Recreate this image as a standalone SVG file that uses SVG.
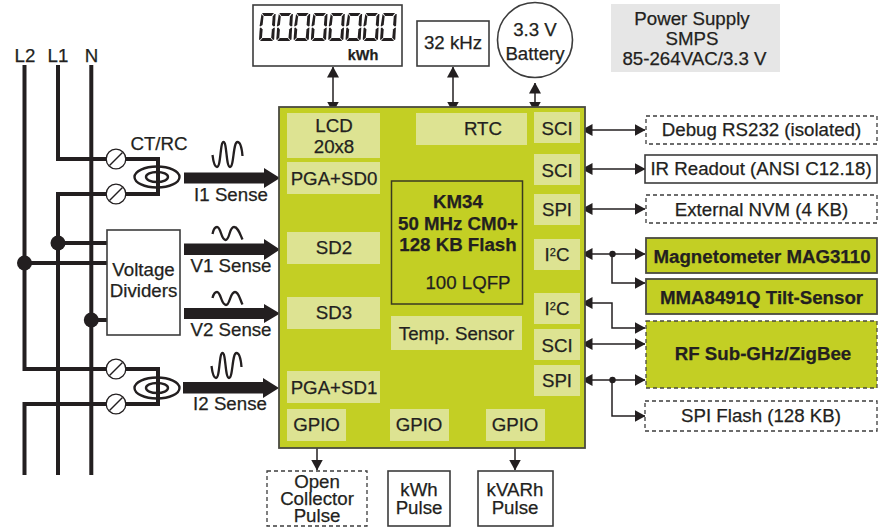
<svg xmlns="http://www.w3.org/2000/svg" xmlns:xlink="http://www.w3.org/1999/xlink" width="885" height="529" viewBox="0 0 885 529">
<style>
text{font-family:"Liberation Sans",Arial,sans-serif;font-size:18.7px;fill:#231f20;stroke:#231f20;stroke-width:.25;text-anchor:middle}
.b{font-weight:bold}
.box{fill:#fff;stroke:#3c3c3c;stroke-width:1.6}
.dash{fill:#fff;stroke:#3c3c3c;stroke-width:1.3;stroke-dasharray:4 3}
.grn{fill:#c3cf24;stroke:#4a4a40;stroke-width:1.8}
.pad{fill:#dde392}
.wire{fill:none;stroke:#231f20;stroke-width:4}
.conn{fill:none;stroke:#231f20;stroke-width:1.5}
.both{marker-start:url(#ah);marker-end:url(#ah)}
.end{marker-end:url(#ah)}
.dot{fill:#231f20}
.wave{fill:none;stroke:#231f20;stroke-width:2.3}
.thick{fill:#231f20}
.screw{fill:#fff;stroke:#231f20;stroke-width:1.3}
.ring{fill:none;stroke:#231f20;stroke-width:2.4}
.seg{fill:#231f20}
</style>
<defs>
<marker id="ah" viewBox="0 0 11 12" refX="10.5" refY="6" markerWidth="11" markerHeight="12" markerUnits="userSpaceOnUse" orient="auto-start-reverse"><path d="M0 0L11 6L0 12Z" fill="#231f20"/></marker>
<g id="digit">
<polygon class="seg" points="3,0 15,0 12.5,3 5,3"/>
<polygon class="seg" points="2.5,1 4.5,3.5 3.6,12 1.2,13.6 0.6,13"/>
<polygon class="seg" points="15.5,1 16.6,1 16,13 14.6,13.6 13,12 13.7,3.5"/>
<polygon class="seg" points="0.8,15 2,14.6 3.6,16.4 3,24.5 0.8,27 0,26.5"/>
<polygon class="seg" points="14.4,15 15.8,14.6 15.2,26.5 14,27 12.2,24.5 12.9,16.4"/>
<polygon class="seg" points="3.5,25 11.5,25 14,28 1,28"/>
</g>
<g id="screw"><circle class="screw" r="9.8"/><path d="M-6.500 6.500L6.500 -6.500" stroke="#231f20" stroke-width="1.500"/></g>
<g id="ct"><ellipse class="ring" rx="22.500" ry="10.500"/><ellipse class="ring" rx="11" ry="5"/></g>
</defs>

<g id="connectors">
<path class="wire" d="M24.500 65V369H158V404H24.500V475"/>
<path class="wire" d="M58 65V159H158V194H58V475"/>
<path class="wire" d="M91.300 65V475"/>
<path class="wire" d="M58 243H108M24.500 263H108M91.300 320H108"/>
<circle class="dot" cx="58" cy="243" r="7.500"/>
<circle class="dot" cx="24.500" cy="263" r="7.500"/>
<circle class="dot" cx="91.300" cy="320" r="7.500"/>
<path class="thick" d="M184 172.500H264V168L280 178L264 188V183.500H184Z"/>
<path class="thick" d="M184 243.500H264V239L280 249.500L264 260V255H184Z"/>
<path class="thick" d="M184 308H264V304L280 313.500L264 323V319H184Z"/>
<path class="thick" d="M183 382H263V378L279 388L263 398V393.500H183Z"/>
<path class="wave" d="M212.500 155C213.500 163 215 167 217 167C221 167 220 142 223.500 142C227 142 226 167 230 167C234 167 233 142 237.500 142C241 142 242 150 242.500 156"/>
<path class="wave" d="M212.500 234C213.500 229 215 227 217 227C221 227 221 240 225.500 240C230 240 229 227 234 227C238 227 240 234 242.500 239.500"/>
<path class="wave" d="M212.500 298C213.500 294 215 292 217 292C221 292 221 305 226 305C230 305 230 292 235 292C239 292 240 300 242.500 304.500"/>
<path class="wave" d="M211.500 366C212.500 374 214 378 216 378C220 378 219 353 222.500 353C226 353 225 378 229 378C233 378 232 353 236.500 353C240 353 241 361 241.500 367"/>
<path class="conn both" d="M333 67V112"/>
<path class="conn both" d="M453 67V112"/>
<path class="conn both" d="M535 83V112"/>
<path class="conn both" d="M582 130H645"/>
<path class="conn both" d="M582 169H645"/>
<path class="conn both" d="M582 209H645"/>
<path class="conn both" d="M582 254H645"/>
<path class="conn end" d="M612 254V283H645"/>
<circle class="dot" cx="612.500" cy="254" r="3.200"/>
<path class="conn both" d="M582 303H612V328H645"/>
<path class="conn both" d="M582 344H645"/>
<path class="conn both" d="M582 380H645"/>
<path class="conn end" d="M612 380V416H645"/>
<circle class="dot" cx="612.500" cy="380" r="3.200"/>
<path class="conn end" d="M317 441V470"/>
<path class="conn end" d="M515 441V470"/>
</g>

<g id="mains-labels">
<text x="25" y="62">L2</text><text x="58" y="62">L1</text><text x="91.500" y="62">N</text>
<text x="159" y="150">CT/RC</text>
<text x="231" y="201">I1 Sense</text>
<text x="231" y="272">V1 Sense</text>
<text x="231" y="336">V2 Sense</text>
<text x="230" y="410">I2 Sense</text>
</g>
<g id="ct1"><use xlink:href="#screw" x="116" y="159"/><use xlink:href="#screw" x="116" y="194"/><use xlink:href="#ct" x="157" y="177"/></g>
<g id="ct2"><use xlink:href="#screw" x="116" y="369"/><use xlink:href="#screw" x="116" y="404"/><use xlink:href="#ct" x="157" y="388"/></g>
<g id="dividers"><rect class="box" x="107" y="230" width="73" height="105"/><text x="143.500" y="276">Voltage</text><text x="143.500" y="297">Dividers</text></g>

<g id="mcu">
<rect class="grn" x="279" y="107" width="306" height="341"/>
<rect class="pad" x="287" y="113" width="93" height="45"/><text x="334" y="132">LCD</text><text x="334" y="153">20x8</text>
<rect class="pad" x="416" y="113" width="111" height="32"/><text x="483" y="135">RTC</text>
<rect class="pad" x="534" y="112" width="46" height="31"/><text x="557" y="135">SCI</text>
<rect class="pad" x="534" y="154" width="46" height="31"/><text x="557" y="177">SCI</text>
<rect class="pad" x="534" y="194" width="46" height="31"/><text x="557" y="216">SPI</text>
<rect class="pad" x="534" y="239" width="46" height="31"/><text x="557" y="261">I<tspan font-size="11" dy="-5">2</tspan><tspan dy="5">C</tspan></text>
<rect class="pad" x="534" y="293" width="46" height="31"/><text x="557" y="315">I<tspan font-size="11" dy="-5">2</tspan><tspan dy="5">C</tspan></text>
<rect class="pad" x="534" y="329" width="46" height="31"/><text x="557" y="352">SCI</text>
<rect class="pad" x="534" y="365" width="46" height="31"/><text x="557" y="387">SPI</text>
<rect class="pad" x="287" y="162" width="93" height="32"/><text x="334" y="185">PGA+SD0</text>
<rect class="pad" x="287" y="232" width="93" height="32"/><text x="334" y="254">SD2</text>
<rect class="pad" x="287" y="297" width="93" height="32"/><text x="334" y="319">SD3</text>
<rect class="pad" x="287" y="371" width="93" height="32"/><text x="334" y="394">PGA+SD1</text>
<rect class="pad" x="287" y="409" width="59" height="32"/><text x="316.500" y="431">GPIO</text>
<rect class="pad" x="390" y="409" width="59" height="32"/><text x="419" y="431">GPIO</text>
<rect class="pad" x="486" y="409" width="59" height="32"/><text x="515" y="431">GPIO</text>
<rect x="391.500" y="181" width="131" height="123" fill="none" stroke="#3a3a20" stroke-width="1.500"/>
<text class="b" x="458" y="208">KM34</text><text class="b" x="458" y="230">50 MHz CM0+</text><text class="b" x="458" y="251">128 KB Flash</text><text x="468" y="289">100 LQFP</text>
<rect class="pad" x="391" y="316" width="131" height="34"/><text x="456.500" y="340">Temp. Sensor</text>
</g>

<g id="lcd-display">
<rect class="box" x="253" y="5" width="149" height="61"/>
<use xlink:href="#digit" x="259" y="13"/><use xlink:href="#digit" x="276.300" y="13"/><use xlink:href="#digit" x="293.600" y="13"/><use xlink:href="#digit" x="310.900" y="13"/><use xlink:href="#digit" x="328.200" y="13"/><use xlink:href="#digit" x="345.500" y="13"/><use xlink:href="#digit" x="362.800" y="13"/><use xlink:href="#digit" x="380.100" y="13"/>
<text class="b" x="363" y="60" style="font-size:14.500px">kWh</text>
</g>
<g id="crystal"><rect class="box" x="417" y="21" width="72" height="45"/><text x="453" y="49">32 kHz</text></g>
<g id="battery"><circle class="box" cx="535" cy="40" r="37.500"/><text x="535" y="36">3.3 V</text><text x="535" y="60">Battery</text></g>
<g id="power"><rect x="611" y="4" width="169" height="68" fill="#e6e6e6"/><text x="692" y="25">Power Supply</text><text x="692" y="45">SMPS</text><text x="694.500" y="65">85-264VAC/3.3 V</text></g>

<g id="debug"><rect class="dash" x="646" y="116" width="231" height="28"/><text x="761.500" y="136">Debug RS232 (isolated)</text></g>
<g id="ir"><rect class="box" x="645" y="155" width="232" height="28"/><text x="761" y="175">IR Readout (ANSI C12.18)</text></g>
<g id="nvm"><rect class="dash" x="646" y="195" width="231" height="28"/><text x="761.500" y="216">External NVM (4 KB)</text></g>
<g id="mag"><rect class="grn" x="646" y="238" width="231" height="35"/><text class="b" x="762" y="263">Magnetometer MAG3110</text></g>
<g id="mma"><rect class="grn" x="646" y="279" width="231" height="35"/><text class="b" x="761.500" y="304">MMA8491Q Tilt-Sensor</text></g>
<g id="rf"><rect class="grn" x="646" y="321" width="231" height="67" stroke-dasharray="4 3" style="stroke-width:1.300"/><text class="b" x="763" y="360">RF Sub-GHz/ZigBee</text></g>
<g id="flash"><rect class="dash" x="645" y="401" width="232" height="30"/><text x="761" y="422">SPI Flash (128 KB)</text></g>
<g id="oc"><rect class="dash" x="267" y="471" width="100" height="55"/><text x="317" y="488">Open</text><text x="317" y="505">Collector</text><text x="317" y="522">Pulse</text></g>
<g id="kwh"><rect class="box" x="388" y="471" width="62" height="55"/><text x="419" y="496">kWh</text><text x="419" y="514">Pulse</text></g>
<g id="kvarh"><rect class="box" x="478" y="471" width="75" height="55"/><text x="515" y="496">kVARh</text><text x="515" y="514">Pulse</text></g>
</svg>
